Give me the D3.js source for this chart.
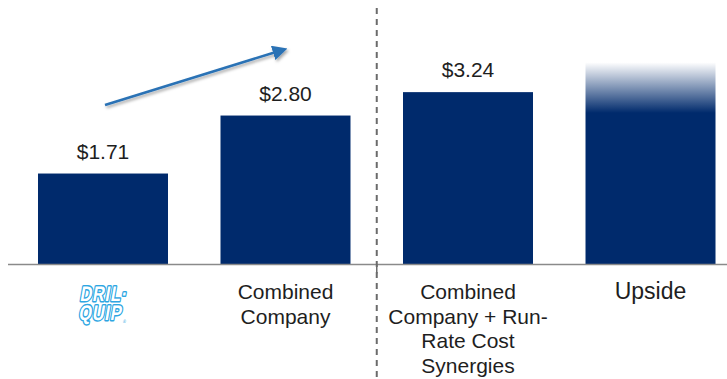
<!DOCTYPE html>
<html>
<head>
<meta charset="utf-8">
<script src="https://cdn.jsdelivr.net/npm/d3@7"></script>
<style>
  html, body { margin: 0; padding: 0; background: #fff; }
  svg { display: block; }
  text { font-family: "Liberation Sans", Arial, sans-serif; }
</style>
</head>
<body>
<svg id="chart" width="727" height="379"></svg>
<script>
// EPS comparison
const categories = ["Dril-Quip", "Combined Company", "Combined + Synergies", "Upside"];
const values = [1.71, 2.80, 3.24, 3.80];
const valueLabels = ["$1.71", "$2.80", "$3.24", ""];
const categoryLabels = [
  [],
  ["Combined", "Company"],
  ["Combined", "Company + Run-", "Rate Cost", "Synergies"],
  ["Upside"]
];

const W = 727, H = 379;
const baseY = 264.5;
const navy = "#002a6c";

const svg = d3.select("#chart");

const x = d3.scaleBand()
  .domain(categories)
  .range([11.75, 741.75])
  .paddingInner(0.2877)
  .paddingOuter(0.1438);

const y = d3.scaleLinear()
  .domain([0, 4])
  .range([baseY, baseY - 4 * 53.2]);

// fade at the top of the upside bar
const defs = svg.append("defs");
const grad = defs.append("linearGradient")
  .attr("id", "fade").attr("x1", 0).attr("y1", 0).attr("x2", 0).attr("y2", 1);
grad.append("stop").attr("offset", 0).attr("stop-color", navy).attr("stop-opacity", 0);
grad.append("stop").attr("offset", 0.25).attr("stop-color", navy).attr("stop-opacity", 1);
grad.append("stop").attr("offset", 1).attr("stop-color", navy).attr("stop-opacity", 1);

const shadow = defs.append("filter").attr("id", "shadow")
  .attr("x", "-10%").attr("y", "-50%").attr("width", "120%").attr("height", "200%");
shadow.append("feDropShadow").attr("dx", 1.5).attr("dy", 2).attr("stdDeviation", 1.5)
  .attr("flood-color", "#000").attr("flood-opacity", 0.35);

const marker = defs.append("marker")
  .attr("id", "arrowhead")
  .attr("viewBox", "0 0 10 10")
  .attr("refX", 2).attr("refY", 5)
  .attr("markerWidth", 6).attr("markerHeight", 6)
  .attr("markerUnits", "strokeWidth")
  .attr("orient", "auto");
marker.append("path").attr("d", "M0,0 L10,5 L0,10 Z").attr("fill", "#2a72b5");

// bars
svg.append("g").selectAll("rect")
  .data(categories)
  .join("rect")
  .attr("x", d => x(d))
  .attr("width", x.bandwidth())
  .attr("y", (d, i) => y(values[i]))
  .attr("height", (d, i) => y(0) - y(values[i]))
  .attr("fill", (d, i) => i === 3 ? "url(#fade)" : navy);

// value labels
svg.append("g").selectAll("text")
  .data(categories)
  .join("text")
  .attr("x", d => x(d) + x.bandwidth() / 2)
  .attr("y", (d, i) => y(values[i]) - 15)
  .attr("text-anchor", "middle")
  .attr("font-size", 21)
  .attr("fill", "#1e1e1e")
  .text((d, i) => valueLabels[i]);

// baseline
svg.append("line")
  .attr("x1", 8).attr("x2", W)
  .attr("y1", baseY).attr("y2", baseY)
  .attr("stroke", "#8a8a8a").attr("stroke-width", 1.5);

// divider between standalone and synergy scenarios
const divX = (x(categories[1]) + x.bandwidth() + x(categories[2])) / 2;
svg.append("line")
  .attr("x1", divX).attr("x2", divX)
  .attr("y1", 8).attr("y2", H)
  .attr("stroke", "#6b6b6b").attr("stroke-width", 2)
  .attr("stroke-dasharray", "6,5");
svg.append("line")
  .attr("x1", divX).attr("x2", divX)
  .attr("y1", baseY).attr("y2", baseY + 9)
  .attr("stroke", "#6b6b6b").attr("stroke-width", 1.5);

// category labels
categories.forEach((c, i) => {
  const lines = categoryLabels[i];
  const fs = i === 3 ? 23 : 21;
  const t = svg.append("text")
    .attr("x", x(c) + x.bandwidth() / 2)
    .attr("y", 299)
    .attr("text-anchor", "middle")
    .attr("font-size", fs)
    .attr("fill", "#1e1e1e");
  lines.forEach((l, k) => {
    t.append("tspan")
      .attr("x", x(c) + x.bandwidth() / 2)
      .attr("dy", k === 0 ? 0 : 24.5)
      .text(l);
  });
});

// Dril-Quip wordmark under the first bar
const logoX = x(categories[0]) + x.bandwidth() / 2;
const logo = svg.append("g")
  .attr("transform", `translate(${logoX},302) skewX(-10) scale(0.78,1)`);
[["DRIL·", -1], ["QUIP", 18]].forEach(([s, yy]) => {
  [["none", "#2ea6e2", 3], ["#ffffff", "none", 0]].forEach(([fill, stroke, sw]) => {
    logo.append("text")
      .attr("x", 0).attr("y", yy)
      .attr("text-anchor", "middle")
      .attr("font-family", "DejaVu Sans, sans-serif")
      .attr("font-weight", "bold")
      .attr("font-size", 21)
      .attr("letter-spacing", 1)
      .attr("fill", fill)
      .attr("stroke", stroke)
      .attr("stroke-width", sw)
      .attr("stroke-linejoin", "round")
      .text(s);
  });
});
logo.append("text")
  .attr("x", 30).attr("y", 21)
  .attr("font-size", 5)
  .attr("fill", "#2ea6e2")
  .text("®");

// growth arrow
svg.append("line")
  .attr("x1", 105).attr("y1", 105)
  .attr("x2", 276).attr("y2", 52)
  .attr("stroke", "#2a72b5")
  .attr("stroke-width", 2.5)
  .attr("marker-end", "url(#arrowhead)")
  .attr("filter", "url(#shadow)");
</script>
</body>
</html>
